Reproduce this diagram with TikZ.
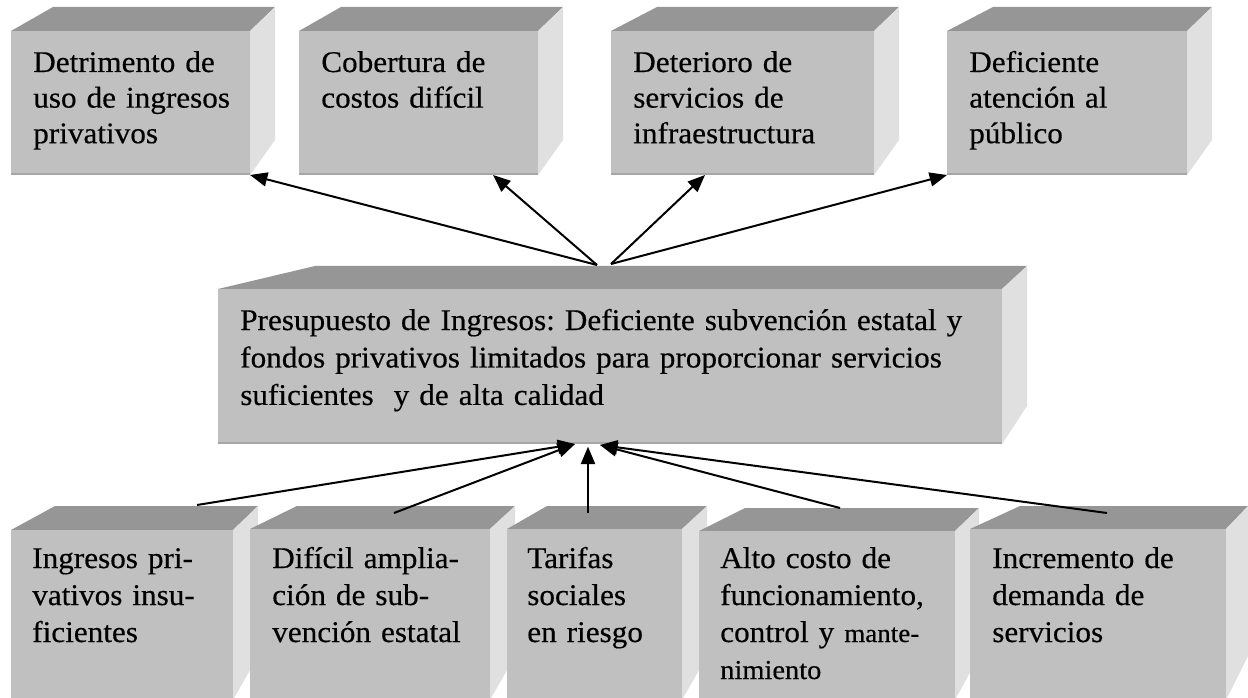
\documentclass[tikz,border=0pt]{standalone}
\usepackage{fontspec}
\setmainfont{Liberation Serif}[FakeStretch=1.04, FakeBold=0.4]
\usetikzlibrary{arrows.meta}
\definecolor{topc}{HTML}{969696}
\definecolor{frontc}{HTML}{C0C0C0}
\definecolor{sidec}{HTML}{E0E0E0}
\definecolor{edgec}{HTML}{A6A6A6}
\tikzset{
  frontface/.style={fill=frontc, draw=none, rectangle, inner sep=0pt, outer sep=0pt, anchor=north west},
  txt/.style={font=\fontsize{22.5}{27.75}\selectfont, text width=620pt, align=left, inner sep=0pt, anchor=base west},
  txttop/.style={txt, font=\fontsize{22.5}{26.7}\selectfont},
  txtmid/.style={txt, font=\fontsize{22.5}{28.1}\selectfont},
  arr/.style={line width=1.5pt, -{Triangle[length=13pt,width=10.5pt]}},
}
% #1 name, #2 L, #3 R, #4 front top, #5 front bottom, #6 back-left, #7 back-right, #8 back top, #9 side back bottom
\newcommand\boxcube[9]{%
  \fill[topc] (#2,#4) -- (#6,#8) -- (#7,#8) -- (#3,#4) -- cycle;
  \fill[sidec] (#3,#4) -- (#7,#8) -- (#7,#9) -- (#3,#5) -- cycle;
  \node[frontface, minimum width={(#3-#2)*0.75pt}, minimum height={(#5-#4)*0.75pt}] (#1) at (#2,#4) {};
  \draw[edgec, line width=1.5pt] ([yshift=0.75pt]#1.south west) -- ([yshift=0.75pt]#1.south east);
}
\frenchspacing
\begin{document}
\begin{tikzpicture}[x=0.75pt, y=-0.75pt]
\clip (0,0) rectangle (1248,698);
\fill[white] (0,0) rectangle (1248,698);
% top row
\boxcube{b1}{11}{250}{31}{175}{53}{275}{7}{140}
\boxcube{b2}{299}{538}{31}{175}{341}{563}{7}{140}
\boxcube{b3}{611}{874}{31}{175}{657}{899}{7}{140}
\boxcube{b4}{947}{1187}{31}{175}{993}{1212}{7}{140}
% middle
\boxcube{m}{218}{1002}{289}{444}{315}{1027}{266}{406}
% bottom row
\boxcube{b5}{11}{233}{530}{700}{55}{258}{506}{656}
\boxcube{b6}{250}{490}{529}{700}{297}{515}{506}{656}
\boxcube{b7}{507}{682}{529}{700}{547}{707}{506}{656}
\boxcube{b8}{699}{955}{531}{700}{745}{979}{508}{656}
\boxcube{b9}{970}{1226}{529}{700}{1020}{1248}{506}{656}
% texts
\node[txttop] (t1) at (33,72) {Detrimento de\\uso de ingresos\\privativos};
\node[txttop] (t2) at (321,72) {Cobertura de\\costos difícil};
\node[txttop] (t3) at (633,72) {Deterioro de\\servicios de\\infraestructura};
\node[txttop] (t4) at (969,72) {Deficiente\\atención al\\público};
\node[txtmid] (tm) at (240,330) {Presupuesto de Ingresos: Deficiente subvención estatal y\\fondos privativos limitados para proporcionar servicios\\suficientes\ \ y de alta calidad};
\node[txt] (t5) at (32,568) {Ingresos pri-\\vativos insu-\\ficientes};
\node[txt] (t6) at (272,568) {Difícil amplia-\\ción de sub-\\vención estatal};
\node[txt] (t7) at (527,568) {Tarifas\\sociales\\en riesgo};
\node[txt] (t8) at (720,568) {Alto costo de\\funcionamiento,\\control y {\fontsize{19.5}{27.75}\selectfont mante-}\\{\fontsize{20.5}{27.75}\selectfont nimiento}};
\node[txt] (t9) at (992,568) {Incremento de\\demanda de\\servicios};
% connector start points
\coordinate (mtA) at (597,265);
\coordinate (mtB) at (611,264);
\coordinate (s5) at (197,505);
\coordinate (s6) at (394,513);
\coordinate (s7) at (588,513);
\coordinate (s8) at (840,508);
\coordinate (s9) at (1107,513);
% top arrows
\draw[arr] (mtA) -- (b1.south east);
\draw[arr] (mtA) -- ([xshift=55.9pt]b2.south);
\draw[arr] (mtB) -- ([xshift=-28.1pt]b3.south);
\draw[arr] (mtB) -- (b4.south west);
% bottom arrows
\draw[arr] (s5) -- ([xshift=-26.25pt]m.south);
\draw[arr] (s6) -- ([xshift=-26.25pt]m.south);
\draw[arr] (s7) -- ([xshift=-16.5pt,yshift=-2pt]m.south);
\draw[arr] (s8) -- ([xshift=-7.5pt,yshift=-0.75pt]m.south);
\draw[arr] (s9) -- ([xshift=-7.5pt,yshift=-0.75pt]m.south);
\end{tikzpicture}
\end{document}
